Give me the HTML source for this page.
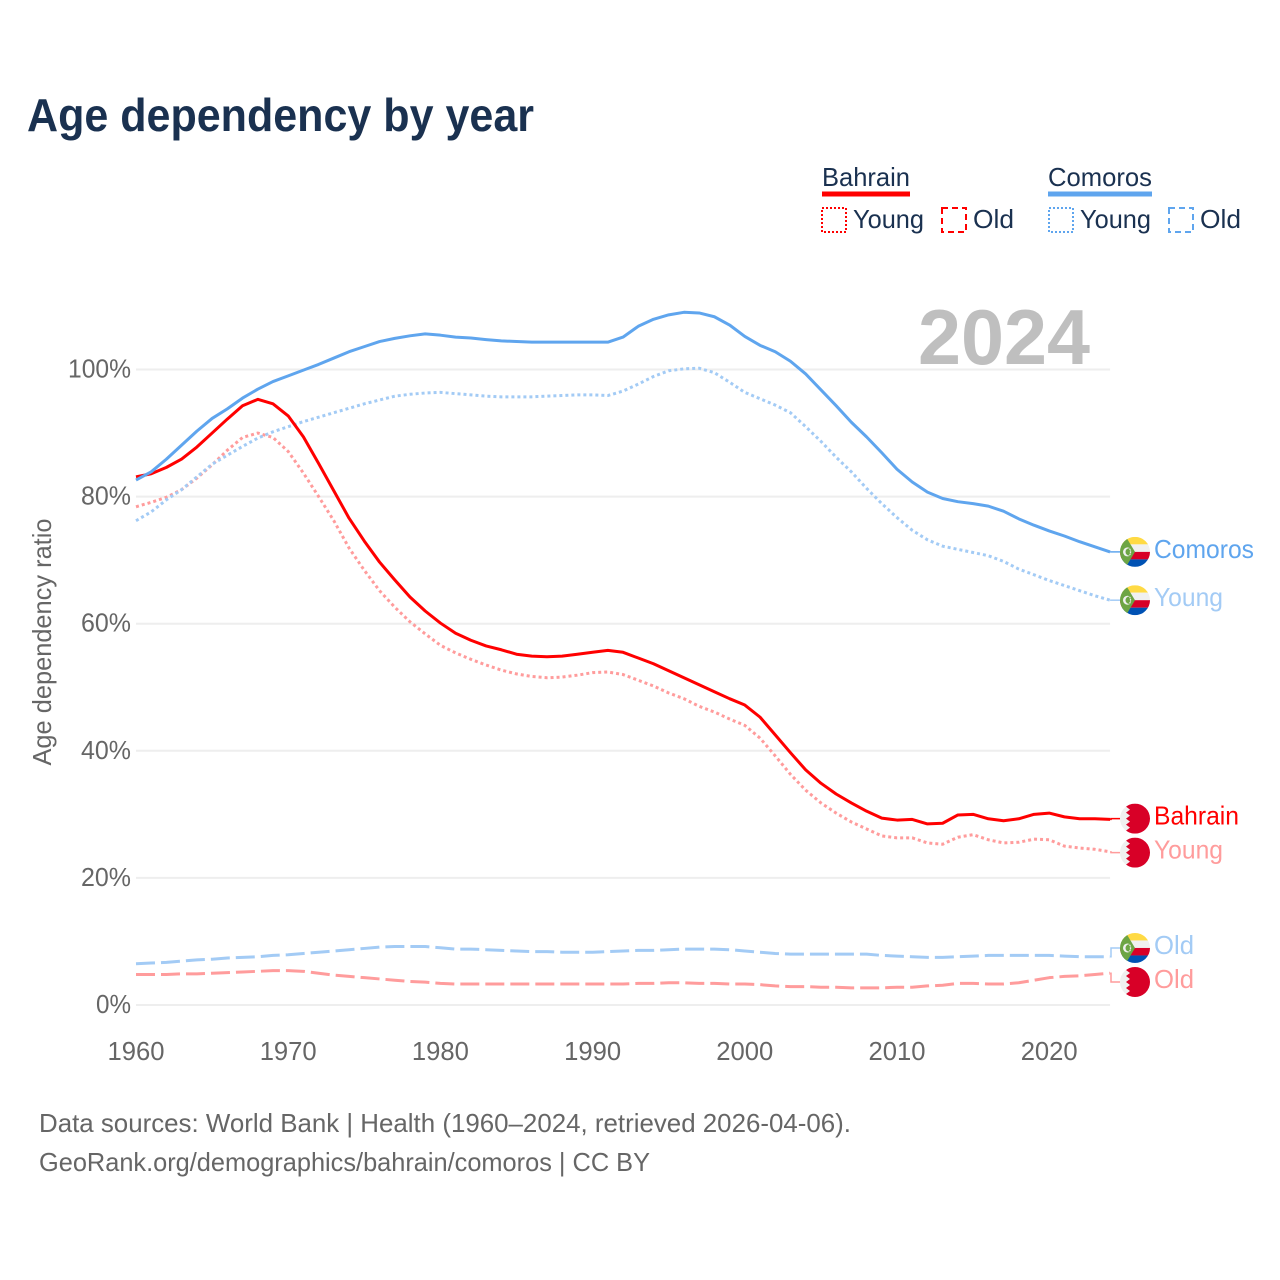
<!DOCTYPE html>
<html lang="en">
<head>
<meta charset="utf-8">
<title>Age dependency by year</title>
<style>
html,body{margin:0;padding:0;background:#fff;}
svg{display:block;font-family:"Liberation Sans",sans-serif;}
</style>
</head>
<body>
<svg id="chart" xmlns="http://www.w3.org/2000/svg" width="1280" height="1280" viewBox="0 0 1280 1280">
<defs>
<clipPath id="flag-clip"><circle cx="0" cy="0" r="15"></circle></clipPath>
<g id="flag-comoros">
<g clip-path="url(#flag-clip)">
<rect x="-15" y="-15" width="30" height="7.5" fill="#ffda44"></rect>
<rect x="-15" y="-7.5" width="30" height="7.5" fill="#f0f0f0"></rect>
<rect x="-15" y="0" width="30" height="7.5" fill="#d80027"></rect>
<rect x="-15" y="7.5" width="30" height="7.5" fill="#0052b4"></rect>
<polygon points="-15,-15 -9,-15 0,0 -9,15 -15,15" fill="#6da544"></polygon>
<circle cx="-7.5" cy="0" r="4.5" fill="#f0f0f0"></circle>
<circle cx="-5.8" cy="0" r="3.7" fill="#6da544"></circle>
<circle cx="-5" cy="-2.5" r="0.7" fill="#f0f0f0"></circle>
<circle cx="-4.5" cy="-0.8" r="0.7" fill="#f0f0f0"></circle>
<circle cx="-4.5" cy="0.8" r="0.7" fill="#f0f0f0"></circle>
<circle cx="-5" cy="2.5" r="0.7" fill="#f0f0f0"></circle>
</g>
</g>
<g id="flag-bahrain">
<g clip-path="url(#flag-clip)">
<rect x="-15" y="-15" width="30" height="30" fill="#f0f0f0"></rect>
<polygon points="-5,-15 15,-15 15,15 -5,15 -9,12 -5,9 -9,6 -5,3 -9,0 -5,-3 -9,-6 -5,-9 -9,-12" fill="#d80027"></polygon>
</g>
</g>
</defs>

<text x="27" y="131" font-size="46" font-weight="700" fill="#1a3150" textLength="507" lengthAdjust="spacingAndGlyphs">Age dependency by year</text>

<g>
<text x="822" y="186" font-size="26" fill="#1a3150" textLength="88" lengthAdjust="spacingAndGlyphs">Bahrain</text>
<rect x="822" y="191.5" width="88" height="5" fill="#ff0000"></rect>
<rect x="822" y="208" width="24" height="24" fill="none" stroke="#ff0000" stroke-width="2" stroke-dasharray="2 2"></rect>
<text x="853" y="228" font-size="26" fill="#1a3150" textLength="71" lengthAdjust="spacingAndGlyphs">Young</text>
<rect x="942" y="208" width="24" height="24" fill="none" stroke="#ff0000" stroke-width="2" stroke-dasharray="6 4"></rect>
<text x="973" y="228" font-size="26" fill="#1a3150" textLength="41" lengthAdjust="spacingAndGlyphs">Old</text>
<text x="1048" y="186" font-size="26" fill="#1a3150" textLength="104" lengthAdjust="spacingAndGlyphs">Comoros</text>
<rect x="1048" y="191.5" width="104" height="5" fill="#5fa5ee"></rect>
<rect x="1049" y="208" width="24" height="24" fill="none" stroke="#5fa5ee" stroke-width="2" stroke-dasharray="2 2"></rect>
<text x="1080" y="228" font-size="26" fill="#1a3150" textLength="71" lengthAdjust="spacingAndGlyphs">Young</text>
<rect x="1169" y="208" width="24" height="24" fill="none" stroke="#5fa5ee" stroke-width="2" stroke-dasharray="6 4"></rect>
<text x="1200" y="228" font-size="26" fill="#1a3150" textLength="41" lengthAdjust="spacingAndGlyphs">Old</text>
</g>

<g id="grid"></g>
<text x="1090" y="364" font-size="78" font-weight="700" fill="#bfbfbf" text-anchor="end" textLength="172" lengthAdjust="spacingAndGlyphs">2024</text>
<g id="y-ticks"></g>
<g id="x-ticks"></g>
<text transform="translate(51,642) rotate(-90)" font-size="26" fill="#666666" text-anchor="middle" textLength="247" lengthAdjust="spacingAndGlyphs">Age dependency ratio</text>
<g id="series"></g>
<g id="end-labels"></g>

<text x="39" y="1132" font-size="26" fill="#666666" textLength="812" lengthAdjust="spacingAndGlyphs">Data sources: World Bank | Health (1960–2024, retrieved 2026-04-06).</text>
<text x="39" y="1171" font-size="26" fill="#666666" textLength="611" lengthAdjust="spacingAndGlyphs">GeoRank.org/demographics/bahrain/comoros | CC BY</text>
</svg>

<script>
const startYear = 1960;
const xTickYears = [1960, 1970, 1980, 1990, 2000, 2010, 2020];
const yTickValues = [0, 20, 40, 60, 80, 100];

const comorosTotal = [82.6,83.9,85.9,88.1,90.3,92.3,93.8,95.5,96.9,98.1,99,99.9,100.8,101.8,102.8,103.6,104.4,104.9,105.3,105.6,105.4,105.1,104.95,104.7,104.5,104.4,104.3,104.3,104.3,104.3,104.3,104.3,105.1,106.8,107.9,108.6,109,108.9,108.3,107,105.2,103.8,102.8,101.3,99.3,96.8,94.3,91.7,89.4,86.9,84.3,82.3,80.7,79.7,79.2,78.9,78.5,77.7,76.5,75.5,74.6,73.8,72.9,72.1,71.3];
const comorosYoung = [76.2,77.6,79.5,81.1,83.1,85.1,86.5,87.9,89.2,90.2,91,91.8,92.5,93.2,93.9,94.6,95.2,95.8,96.1,96.3,96.4,96.2,96,95.8,95.7,95.7,95.7,95.8,95.9,96,96,95.9,96.6,97.7,98.9,99.8,100.1,100.2,99.5,98,96.4,95.4,94.4,93.2,91,88.7,86.2,83.9,81.3,78.9,76.7,74.7,73.2,72.2,71.7,71.2,70.7,69.8,68.6,67.7,66.8,66,65.2,64.4,63.7];
const comorosOld = [6.5,6.6,6.7,6.9,7.1,7.2,7.4,7.5,7.6,7.8,7.9,8.1,8.3,8.5,8.7,8.9,9.1,9.2,9.2,9.2,9,8.8,8.8,8.7,8.6,8.5,8.4,8.4,8.3,8.3,8.3,8.4,8.5,8.6,8.6,8.7,8.8,8.8,8.8,8.7,8.5,8.3,8.1,8,8,8,8,8,8,7.8,7.7,7.6,7.5,7.5,7.6,7.7,7.8,7.8,7.8,7.8,7.8,7.7,7.6,7.6,7.6];
const bahrainTotal = [83.1,83.6,84.6,85.9,87.8,90,92.2,94.3,95.3,94.6,92.7,89.4,85.2,80.9,76.6,73,69.7,66.9,64.2,62,60.1,58.5,57.4,56.5,55.9,55.2,54.9,54.8,54.9,55.2,55.5,55.8,55.5,54.6,53.7,52.6,51.5,50.4,49.3,48.2,47.2,45.3,42.5,39.7,37,34.9,33.2,31.8,30.5,29.4,29.1,29.2,28.5,28.6,29.9,30,29.3,29,29.3,30,30.2,29.6,29.3,29.3,29.2];
const bahrainYoung = [78.4,79.1,79.9,81.1,82.9,85,87.3,89.3,90,89.3,87.1,83.7,80,76.2,71.9,68.4,65.2,62.6,60.3,58.4,56.6,55.4,54.4,53.5,52.7,52.1,51.7,51.5,51.6,51.9,52.3,52.4,52,51.1,50.2,49.1,48.2,47,46.1,45,44,42,39.2,36.3,33.8,31.8,30.2,28.8,27.7,26.6,26.3,26.3,25.5,25.3,26.4,26.8,26,25.5,25.6,26.1,26,25,24.7,24.5,24.1];
const bahrainOld = [4.8,4.8,4.8,4.9,4.9,5,5.1,5.2,5.3,5.4,5.4,5.3,5,4.7,4.5,4.3,4.1,3.9,3.7,3.6,3.4,3.3,3.3,3.3,3.3,3.3,3.3,3.3,3.3,3.3,3.3,3.3,3.3,3.4,3.4,3.5,3.5,3.4,3.4,3.3,3.3,3.2,3,2.9,2.9,2.8,2.8,2.7,2.7,2.7,2.8,2.8,3,3.1,3.4,3.4,3.3,3.3,3.5,3.9,4.3,4.5,4.6,4.8,5];

const NS = 'http://www.w3.org/2000/svg';
const x = year => 136 + (year - 1960) * 15.22;
const y = pct => 1005 - pct * 6.355;
const gridEl = document.getElementById('grid');
const xTicksEl = document.getElementById('x-ticks');
const yTicksEl = document.getElementById('y-ticks');
const seriesEl = document.getElementById('series');
const labelsEl = document.getElementById('end-labels');

function make(tag, attrs, parent) {
  const el = document.createElementNS(NS, tag);
  for (const k in attrs) el.setAttribute(k, attrs[k]);
  parent.appendChild(el);
  return el;
}

yTickValues.forEach(v => {
  const line = make('line', {x1: x(1960), x2: x(2024), y1: y(v), y2: y(v), stroke: '#eeeeee', 'stroke-width': 2}, gridEl);
  
  
  const t = make('text', {x: 131, y: y(v) + 8, 'font-size': 26, fill: '#666666', 'text-anchor': 'end', textLength: v === 100 ? 63 : (v === 0 ? 35 : 50), lengthAdjust: 'spacingAndGlyphs'}, yTicksEl);
  t.textContent = v + '%';
  
  
});

xTickYears.forEach(v => {
  const t = make('text', {x: x(v), y: 1060, 'font-size': 26, fill: '#666666', 'text-anchor': 'middle', textLength: 57, lengthAdjust: 'spacingAndGlyphs'}, xTicksEl);
  t.textContent = v;
  
  
});

const seriesList = [
  {id: 'bahrain-old', values: bahrainOld, color: '#ff9c9c', dash: '19 6', flag: 'flag-bahrain', label: 'Old', width: 40},
  {id: 'comoros-old', values: comorosOld, color: '#a3cbf5', dash: '19 6', flag: 'flag-comoros', label: 'Old', width: 40},
  {id: 'bahrain-young', values: bahrainYoung, color: '#ff9c9c', dash: '3 3', flag: 'flag-bahrain', label: 'Young', width: 69},
  {id: 'comoros-young', values: comorosYoung, color: '#a3cbf5', dash: '3 3', flag: 'flag-comoros', label: 'Young', width: 69},
  {id: 'bahrain-total', values: bahrainTotal, color: '#ff0000', dash: null, flag: 'flag-bahrain', label: 'Bahrain', width: 85},
  {id: 'comoros-total', values: comorosTotal, color: '#5fa5ee', dash: null, flag: 'flag-comoros', label: 'Comoros', width: 100}
];

seriesList.forEach(s => {
  const d = s.values.map((v, i) => (i ? 'L' : 'M') + x(startYear + i).toFixed(2) + ' ' + y(v).toFixed(2)).join(' ');
  const attrs = {d: d, fill: 'none', stroke: s.color, 'stroke-width': 3, 'stroke-linejoin': 'round'};
  if (s.dash) attrs['stroke-dasharray'] = s.dash;
  const p = make('path', attrs, seriesEl);
  
  
});

/* end labels: sort by end value, keep at least 34px between neighbouring labels */
const ends = seriesList.map(s => ({s: s, yEnd: y(s.values[s.values.length - 1]), yLabel: 0})).sort((a, b) => a.yEnd - b.yEnd);
for (let i = 0; i < ends.length; i++) ends[i].yLabel = ends[i].yEnd;
for (let i = 0; i + 1 < ends.length; i++) {
  const a = ends[i], b = ends[i + 1];
  if (b.yLabel - a.yLabel < 34) {
    const mid = (a.yLabel + b.yLabel) / 2;
    a.yLabel = mid - 17;
    b.yLabel = mid + 17;
  }
}
ends.forEach(e => {
  const s = e.s;
  const c = make('path', {d: 'M' + x(2024).toFixed(2) + ' ' + e.yEnd.toFixed(2) + ' H1111 V' + e.yLabel.toFixed(2) + ' H1120', fill: 'none', stroke: s.color, 'stroke-width': 1.5}, labelsEl);
  
  
  const f = make('use', {href: '#' + s.flag, transform: 'translate(1135 ' + e.yLabel.toFixed(2) + ')'}, labelsEl);
  
  
  const t = make('text', {x: 1154, y: e.yLabel + 6, 'font-size': 26, fill: s.color, textLength: s.width, lengthAdjust: 'spacingAndGlyphs'}, labelsEl);
  t.textContent = s.label;
  
  
});
</script>
</body>
</html>
